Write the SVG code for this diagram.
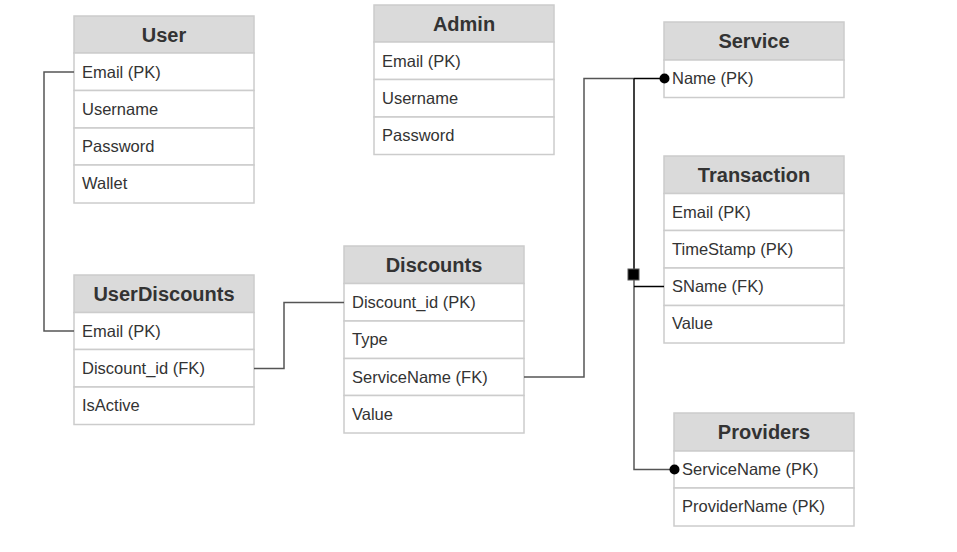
<svg xmlns="http://www.w3.org/2000/svg" width="957" height="552" viewBox="0 0 957 552">
<style>
.bg{fill:#ffffff}
.hd{fill:#dadada;stroke:#cccccc;stroke-width:1.5}
.rw{fill:#ffffff;stroke:#cccccc;stroke-width:1.5}
.ht{font-family:"Liberation Sans",Arial,sans-serif;font-size:20px;font-weight:bold;fill:#333333;text-anchor:middle}
.rt{font-family:"Liberation Sans",Arial,sans-serif;font-size:16.5px;fill:#333333}
.ln{fill:none;stroke:#555555;stroke-width:1.5}
.lb{fill:none;stroke:#000000;stroke-width:1.5}
</style>
<rect class="bg" x="0" y="0" width="957" height="552"/>
<g id="User">
  <rect class="hd" x="74" y="16" width="180" height="37"/>
  <text class="ht" x="164" y="42">User</text>
  <rect class="rw" x="74" y="53" width="180" height="37.5"/>
  <text class="rt" x="82" y="77.5">Email (PK)</text>
  <rect class="rw" x="74" y="90.5" width="180" height="37.5"/>
  <text class="rt" x="82" y="115">Username</text>
  <rect class="rw" x="74" y="128" width="180" height="37"/>
  <text class="rt" x="82" y="152">Password</text>
  <rect class="rw" x="74" y="165" width="180" height="38"/>
  <text class="rt" x="82" y="189">Wallet</text>
</g>
<g id="Admin">
  <rect class="hd" x="374" y="5" width="180" height="37"/>
  <text class="ht" x="464" y="31">Admin</text>
  <rect class="rw" x="374" y="42" width="180" height="37.5"/>
  <text class="rt" x="382" y="66.5">Email (PK)</text>
  <rect class="rw" x="374" y="79.5" width="180" height="37.5"/>
  <text class="rt" x="382" y="104">Username</text>
  <rect class="rw" x="374" y="117" width="180" height="37.5"/>
  <text class="rt" x="382" y="141">Password</text>
</g>
<g id="Service">
  <rect class="hd" x="664" y="22" width="180" height="38"/>
  <text class="ht" x="754" y="48">Service</text>
  <rect class="rw" x="664" y="60" width="180" height="37.5"/>
  <text class="rt" x="672" y="84">Name (PK)</text>
</g>
<g id="Transaction">
  <rect class="hd" x="664" y="156" width="180" height="37.5"/>
  <text class="ht" x="754" y="182">Transaction</text>
  <rect class="rw" x="664" y="193.5" width="180" height="37"/>
  <text class="rt" x="672" y="217.5">Email (PK)</text>
  <rect class="rw" x="664" y="230.5" width="180" height="37.5"/>
  <text class="rt" x="672" y="255">TimeStamp (PK)</text>
  <rect class="rw" x="664" y="268" width="180" height="37.5"/>
  <text class="rt" x="672" y="292">SName (FK)</text>
  <rect class="rw" x="664" y="305.5" width="180" height="37.5"/>
  <text class="rt" x="672" y="329">Value</text>
</g>
<g id="UserDiscounts">
  <rect class="hd" x="74" y="275" width="180" height="37.5"/>
  <text class="ht" x="164" y="301">UserDiscounts</text>
  <rect class="rw" x="74" y="312.5" width="180" height="37"/>
  <text class="rt" x="82" y="336.5">Email (PK)</text>
  <rect class="rw" x="74" y="349.5" width="180" height="37.5"/>
  <text class="rt" x="82" y="374">Discount_id (FK)</text>
  <rect class="rw" x="74" y="387" width="180" height="37.5"/>
  <text class="rt" x="82" y="411">IsActive</text>
</g>
<g id="Discounts">
  <rect class="hd" x="344" y="246" width="180" height="37.5"/>
  <text class="ht" x="434" y="272">Discounts</text>
  <rect class="rw" x="344" y="283.5" width="180" height="37.5"/>
  <text class="rt" x="352" y="308">Discount_id (PK)</text>
  <rect class="rw" x="344" y="321" width="180" height="37.5"/>
  <text class="rt" x="352" y="345">Type</text>
  <rect class="rw" x="344" y="358.5" width="180" height="37"/>
  <text class="rt" x="352" y="382.5">ServiceName (FK)</text>
  <rect class="rw" x="344" y="395.5" width="180" height="37.5"/>
  <text class="rt" x="352" y="419.5">Value</text>
</g>
<g id="Providers">
  <rect class="hd" x="674" y="413" width="180" height="38"/>
  <text class="ht" x="764" y="439">Providers</text>
  <rect class="rw" x="674" y="451" width="180" height="37"/>
  <text class="rt" x="682" y="475">ServiceName (PK)</text>
  <rect class="rw" x="674" y="488" width="180" height="38"/>
  <text class="rt" x="682" y="512">ProviderName (PK)</text>
</g>
<g id="connectors">
  <path class="ln" d="M74,72 H44 V331 H74"/>
  <path class="ln" d="M254,368.5 H284 V302.5 H344"/>
  <path class="ln" d="M524,377 H584 V78.5 H634"/>
  <path class="lb" d="M634,78.5 H664"/>
  <path class="lb" d="M634,78.5 V274"/>
  <path class="ln" d="M634,274 V469.5 H674"/>
  <path class="lb" d="M634,286.5 H664"/>
  <rect x="628" y="269" width="11" height="11" fill="#000000" stroke="#555555" stroke-width="1"/>
  <circle cx="664.5" cy="78.5" r="5" fill="#000000"/>
  <circle cx="674.5" cy="469.5" r="5" fill="#000000"/>
</g>
</svg>
